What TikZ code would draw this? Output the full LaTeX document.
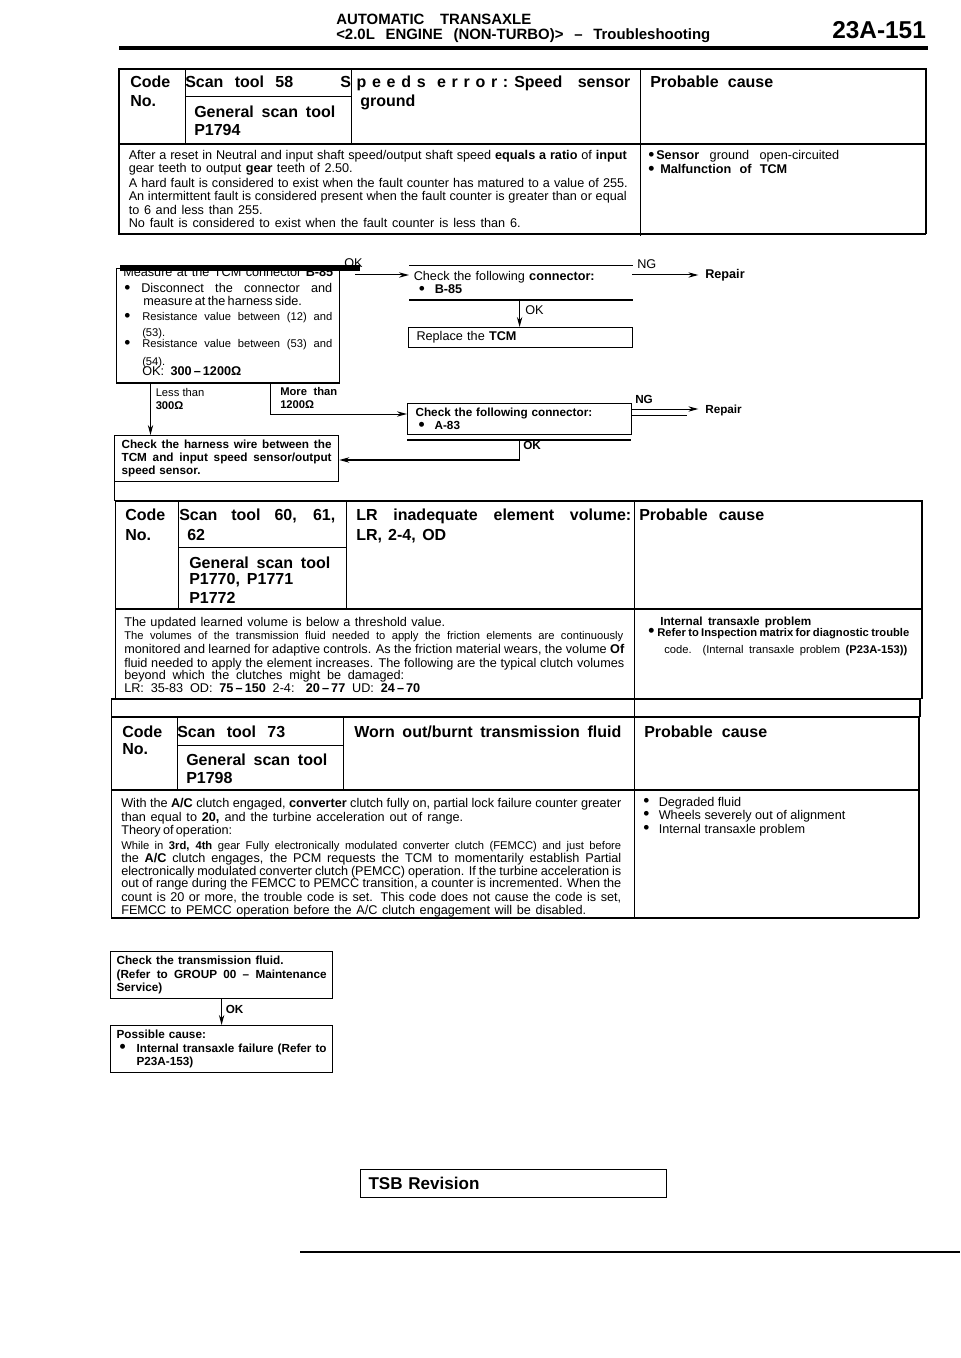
\documentclass[tikz,border=0pt]{standalone}
\usepackage{fontspec}
\setmainfont{Liberation Sans}
\usetikzlibrary{arrows.meta}
\newdimen\pxlen
\pxlen=0.75pt
% a line of text set to a given width in pixels, and a bullet with its gap
\newcommand{\fitline}[2]{\makebox[#1\pxlen][s]{\spaceskip=0pt\relax\xspaceskip=0pt\relax #2}}
\newcommand{\bul}[1]{\makebox[#1\pxlen][l]{\raisebox{-0.5pt}[0pt][0pt]{\fontsize{13}{13}\selectfont\textbullet}}}
\tikzset{
  bodytext/.style={anchor=base west,inner sep=0pt,font=\fontsize{9.5}{10}\selectfont},
  smalltext/.style={anchor=base west,inner sep=0pt,font=\fontsize{8.4}{10}\selectfont},
  darktext/.style={anchor=base west,inner sep=0pt,font=\fontsize{8.8}{10}\bfseries\selectfont},
  headtext/.style={anchor=base west,inner sep=0pt,font=\fontsize{12}{14}\bfseries\selectfont},
  titletext/.style={anchor=base west,inner sep=0pt,font=\fontsize{11.2}{13}\bfseries\selectfont},
  flowbox/.style={anchor=north west,inner xsep=6\pxlen,inner ysep=0pt,align=left,font=\fontsize{9.5}{10}\selectfont},
  darkbox/.style={flowbox,draw,line width=0.9pt,font=\fontsize{8.8}{10}\bfseries\selectfont},
  thinrule/.style={line width=0.75pt},
  heavyrule/.style={line width=1.5pt},
  flowline/.style={line width=0.75pt,-{Stealth[length=7.5pt,width=4pt]}},
}
\begin{document}
\begin{tikzpicture}[x=0.75pt,y=-0.75pt]
\useasboundingbox (0,0) rectangle (960,1358);

% Drawing page header
\node (titlea) [titletext] at (336,25) {\fitline{195}{AUTOMATIC TRANSAXLE}};
\node (titleb) [titletext] at (336,40) {\fitline{374}{<2.0L ENGINE (NON-TURBO)> -- Troubleshooting}};
\node (pagenum) [anchor=base west,inner sep=0pt,font=\fontsize{18.3}{20}\bfseries\selectfont] at (832,39) {23A-151};
\draw [line width=3pt] (119,48) -- (928,48);

% Drawing table for code 58
\draw [heavyrule] (118,69) -- (927,69);
\draw [thinrule] (185,97) -- (351,97);
\draw [heavyrule] (118,144) -- (926,144);
\draw [heavyrule] (118,234) -- (926,234);
\draw [heavyrule] (119,69) -- (119,234);
\draw [thinrule] (185,69) -- (185,144);
\draw [thinrule] (351,69) -- (351,144);
\draw [thinrule] (640,69) -- (640,236);
\draw [heavyrule] (926,69) -- (926,234);

\node (codea) [headtext] at (130,88) {\fitline{44}{Code}};
\node (noa) [headtext] at (130,107) {No.};
\node (scana) [headtext] at (185,88) {\fitline{108}{Scan tool 58}};
\node (generala) [headtext] at (194,118) {\fitline{141}{General scan tool}};
\node (numbera) [headtext] at (194,136) {P1794};
\node (errora) [headtext] at (340,88) {\fitline{168}{S\ p e e d s\ \ e r r o r :}};
\node (sensora) [headtext] at (514,88) {\fitline{116}{Speed sensor}};
\node (grounda) [headtext] at (360,107) {ground};
\node (causea) [headtext] at (650,88) {\fitline{123}{Probable cause}};

\node (desca) [bodytext] at (128.5,160) {\fitline{498}{After a reset in Neutral and input shaft speed/output shaft speed \textbf{equals a ratio} of \textbf{input}}};
\node (descb) [bodytext] at (128.5,173) {\fitline{224}{gear teeth to output \textbf{gear} teeth of 2.50.}};
\node (descc) [bodytext] at (128.5,188) {\fitline{499}{A hard fault is considered to exist when the fault counter has matured to a value of 255.}};
\node (descd) [bodytext] at (128.5,201) {\fitline{498}{An intermittent fault is considered present when the fault counter is greater than or equal}};
\node (desce) [bodytext] at (128.5,215) {\fitline{134}{to 6 and less than 255.}};
\node (descf) [bodytext] at (128.5,228) {\fitline{392}{No fault is considered to exist when the fault counter is less than 6.}};
\node (reasona) [bodytext] at (648,160) {\fitline{191}{\bul{8}\textbf{Sensor} ground open-circuited}};
\node (reasonb) [bodytext] at (648,174) {\fitline{139}{\textbf{\bul{12}Malfunction of TCM}}};

% Drawing first flow chart
\node (boxmeasure) [flowbox,draw,thinrule,minimum width=223\pxlen,minimum height=114\pxlen] at (116,268) {};
\node (measa) [bodytext] at (123,277) {\fitline{210}{Measure at the TCM connector \textbf{B-85}}};
\node (measb) [bodytext] at (124,293) {\fitline{208}{\bul{17}Disconnect the connector and}};
\node (measc) [bodytext] at (143,306) {\fitline{153}{measure at the harness side.}};
\node (measd) [smalltext] at (124,321) {\fitline{208}{\bul{18}Resistance value between (12) and}};
\node (mease) [smalltext] at (142,337) {(53).};
\node (measf) [smalltext] at (124,348) {\fitline{208}{\bul{18}Resistance value between (53) and}};
\node (measg) [smalltext] at (142,366) {(54).};
\node (meash) [bodytext] at (142,376) {\fitline{99}{OK: \textbf{300\,--\,1200Ω}}};
\node (okmeasure) [bodytext] at (344,268) {OK};
\draw [line width=4.2pt] (120,268) -- (360,268);
\draw [heavyrule] (boxmeasure.south west) -- (boxmeasure.south east);

\node (boxconnb) [flowbox,inner xsep=4.5\pxlen,text width=214\pxlen,minimum height=33\pxlen] at (409,266) {Check the following \textbf{connector:}\\\hspace{5\pxlen}\bul{16}\textbf{B-85}};
\draw [thinrule] (boxconnb.north west) -- (boxconnb.north east);
\draw [heavyrule] (boxconnb.south west) -- (boxconnb.south east);
\node (ngb) [bodytext] at (637,269) {NG};
\node (repairb) [bodytext] at (705,279) {\textbf{Repair}};
\node (okb) [bodytext] at (525,315) {OK};
\node (boxreplace) [flowbox,draw,thinrule,inner xsep=8\pxlen,text width=208\pxlen,minimum height=20\pxlen] at (408,327) {Replace the \textbf{TCM}};

\node (lessa) [smalltext] at (155.5,397) {Less than};
\node (lessb) [smalltext] at (155.5,409) {\textbf{300Ω}};
\node (morea) [smalltext] at (280,395) {\fitline{57}{\textbf{More than}}};
\node (moreb) [smalltext] at (280,408) {\textbf{1200Ω}};

\node (boxconna) [darkbox,inner xsep=8\pxlen,text width=208\pxlen,minimum height=31\pxlen] at (407,403) {Check the following connector:\\\hspace{3\pxlen}\bul{16}A-83};
\draw [heavyrule] (407,440) -- (631,440);
\node (nga) [darktext] at (635,403) {NG};
\node (repaira) [darktext] at (705,413) {Repair};
\node (oka) [darktext] at (523,449) {OK};
\node (boxharness) [darkbox,inner xsep=7\pxlen,text width=210\pxlen,minimum height=46\pxlen] at (114,435) {\fitline{210}{Check the harness wire between the}\\\fitline{210}{TCM and input speed sensor/output}\\speed sensor.};

\coordinate (okstart) at (355,275);
\coordinate (ngbstart) at (632,275);
\coordinate (lessstart) at (150.5,383);
\coordinate (morestart) at (270.5,383);
\coordinate (moreend) at (407,414);
\coordinate (ngastart) at (631,409);
\coordinate (okstartb) at (519.6,299);
\coordinate (okstarta) at (519.6,440);
\coordinate (okturn) at (519.6,460);
\draw [flowline] (okstart) -- (okstart -| boxconnb.west);
\draw [flowline,shorten >=5pt] (ngbstart) -- (ngbstart -| repairb.west);
\draw [flowline] (okstartb) -- (okstartb |- boxreplace.north);
\draw [flowline] (lessstart) -- (lessstart |- boxharness.north);
\draw [flowline] (morestart) |- (moreend);
\draw [flowline,shorten >=5pt] (ngastart) -- (ngastart -| repaira.west);
\draw [thinrule] (631,415) -- (687,415);
\draw [flowline,line width=1.2pt] (okstarta) -- (okturn) -- (okturn -| boxharness.east);
\draw [thinrule] (boxharness.south west) -- (114,501);

% Drawing table for codes 60, 61, 62
\draw [heavyrule] (115,501) -- (923,501);
\draw [thinrule] (178,547) -- (346,547);
\draw [heavyrule] (115,609) -- (923,609);
\draw [heavyrule] (111,699) -- (921,699);
\draw [thinrule] (115,501) -- (115,699);
\draw [thinrule] (178,501) -- (178,609);
\draw [thinrule] (346,501) -- (346,609);
\draw [thinrule] (634,501) -- (634,717);
\draw [heavyrule] (921.5,501) -- (921.5,699);

\node (codeb) [headtext] at (125,520) {\fitline{44}{Code}};
\node (nob) [headtext] at (125,540) {No.};
\node (scanb) [headtext] at (179,520) {\fitline{156}{Scan tool 60, 61,}};
\node (scanc) [headtext] at (187,540) {62};
\node (generalb) [headtext] at (189,568) {\fitline{141}{General scan tool}};
\node (numberb) [headtext] at (189,584) {\fitline{104}{P1770, P1771}};
\node (numberc) [headtext] at (189,603) {P1772};
\node (errorb) [headtext] at (356,520) {\fitline{275}{LR inadequate element volume:}};
\node (errorc) [headtext] at (356,540) {\fitline{90}{LR, 2-4, OD}};
\node (causeb) [headtext] at (639,520) {\fitline{125}{Probable cause}};

\node (volua) [bodytext] at (124,626) {\fitline{321}{The updated learned volume is below a threshold value.}};
\node (volub) [smalltext] at (124,639) {\fitline{499}{The volumes of the transmission fluid needed to apply the friction elements are continuously}};
\node (voluc) [bodytext] at (124,653) {\fitline{500}{monitored and learned for adaptive controls. As the friction material wears, the volume \textbf{Of}}};
\node (volud) [bodytext] at (124,667) {\fitline{500}{fluid needed to apply the element increases. The following are the typical clutch volumes}};
\node (volue) [bodytext] at (124,679) {\fitline{280}{beyond which the clutches might be damaged:}};
\node (voluf) [bodytext] at (124,692) {\fitline{296}{LR: 35-83 OD: \textbf{75\,--\,150} 2-4: \textbf{20\,--\,77} UD: \textbf{24\,--\,70}}};
\node (reasonc) [darktext] at (660,625) {\fitline{151}{Internal transaxle problem}};
\node (reasond) [darktext,font=\fontsize{8.4}{10}\bfseries\selectfont] at (648,636) {\fitline{261}{\bul{9}Refer to Inspection matrix for diagnostic trouble}};
\node (reasone) [smalltext] at (664,653) {\fitline{243}{code. (Internal transaxle problem \textbf{(P23A-153))}}};

% Drawing table for code 73
\draw [heavyrule] (111,717) -- (920,717);
\draw [line width=2pt] (920,699) -- (920,717);
\draw [thinrule] (177,745) -- (343.5,745);
\draw [heavyrule] (111,790) -- (919,790);
\draw [heavyrule] (111,918) -- (919,918);
\draw [thinrule] (111.5,699) -- (111.5,918);
\draw [thinrule] (177,717) -- (177,790);
\draw [thinrule] (343.5,717) -- (343.5,790);
\draw [thinrule] (634,717) -- (634,918);
\draw [heavyrule] (919,717) -- (919,918);

\node (codec) [headtext] at (122,737) {\fitline{44}{Code}};
\node (noc) [headtext] at (122,754) {No.};
\node (scand) [headtext] at (177,737) {\fitline{108}{Scan tool 73}};
\node (generalc) [headtext] at (186,765) {\fitline{141}{General scan tool}};
\node (numberd) [headtext] at (186,783) {P1798};
\node (errord) [headtext] at (354,737) {\fitline{267}{Worn out/burnt transmission fluid}};
\node (causec) [headtext] at (644,737) {\fitline{123}{Probable cause}};

\node (fluia) [bodytext] at (121,807) {\fitline{500}{With the \textbf{A/C} clutch engaged, \textbf{converter} clutch fully on, partial lock failure counter greater}};
\node (fluib) [bodytext] at (121,821) {\fitline{342}{than equal to \textbf{20,} and the turbine acceleration out of range.}};
\node (fluic) [bodytext] at (121,834) {\fitline{109}{Theory of operation:}};
\node (fluid) [smalltext] at (121,849) {\fitline{500}{While in \textbf{3rd, 4th} gear Fully electronically modulated converter clutch (FEMCC) and just before}};
\node (fluie) [bodytext] at (121,862) {\fitline{500}{the \textbf{A/C} clutch engages, the PCM requests the TCM to momentarily establish Partial}};
\node (fluif) [bodytext] at (121,875) {\fitline{500}{electronically modulated converter clutch (PEMCC) operation. If the turbine acceleration is}};
\node (fluig) [bodytext] at (121,887) {\fitline{500}{out of range during the FEMCC to PEMCC transition, a counter is incremented. When the}};
\node (fluih) [bodytext] at (121,901) {\fitline{500}{count is 20 or more, the trouble code is set. This code does not cause the code is set,}};
\node (fluii) [bodytext] at (121,914) {\fitline{465}{FEMCC to PEMCC operation before the A/C clutch engagement will be disabled.}};
\node (reasonf) [bodytext] at (643,806) {\bul{15.5}Degraded fluid};
\node (reasong) [bodytext] at (643,819) {\bul{15.5}Wheels severely out of alignment};
\node (reasonh) [bodytext] at (643,833) {\bul{15.5}Internal transaxle problem};

% Drawing second flow chart
\node (boxfluid) [darkbox,text width=210\pxlen,minimum height=47\pxlen] at (110,951) {\fitline{167}{Check the transmission fluid.}\\\fitline{210}{(Refer to GROUP 00 -- Maintenance}\\Service)};
\node (boxcause) [darkbox,text width=210\pxlen,minimum height=47\pxlen] at (110,1025) {Possible cause:\\\fitline{210}{\hspace{3\pxlen}\bul{17}Internal transaxle failure (Refer to}\\\hspace{20\pxlen}P23A-153)};
\node (okfluid) [darktext] at (225.5,1013) {OK};
\draw [flowline] (boxfluid) -- (boxcause);

% Drawing revision box
\node (boxrevision) [flowbox,draw,thinrule,inner xsep=8\pxlen,font=\fontsize{12.8}{14}\bfseries\selectfont,text width=290\pxlen,minimum height=28\pxlen] at (360,1169) {TSB Revision};
\coordinate (footstart) at (300,1252);
\coordinate (footend) at (960,1252);
\draw [heavyrule] (footstart) -- (footend);
\end{tikzpicture}
\end{document}
